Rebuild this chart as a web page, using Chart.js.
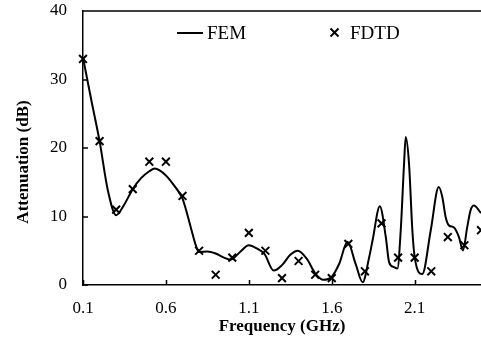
<!DOCTYPE html>
<html><head><meta charset="utf-8">
<style>html,body{margin:0;padding:0;background:#fff;overflow:hidden}</style>
<script src="https://cdn.jsdelivr.net/npm/chart.js@4.4.0/dist/chart.umd.min.js"></script>
</head><body>
<canvas id="c" width="481" height="344" style="display:block;width:481px;height:344px"></canvas>
<script>
const xTicks = [0.1, 0.6, 1.1, 1.6, 2.1];
const yTicks = [0, 10, 20, 30, 40];
const femFreq = [0.1,0.15,0.2,0.25,0.3,0.35,0.4,0.45,0.5,0.533,0.6,0.65,0.7,0.75,0.78,0.8,0.85,0.9,0.95,0.99,1.05,1.1,1.15,1.195,1.25,1.3,1.35,1.395,1.45,1.5,1.55,1.6,1.645,1.695,1.745,1.786,1.826,1.846,1.89,1.926,1.946,1.976,1.996,2.016,2.036,2.046,2.066,2.086,2.1,2.146,2.197,2.245,2.267,2.287,2.307,2.337,2.367,2.391,2.417,2.437,2.457,2.5];
const femAtt = [33.2,27,21,13.8,10.2,11.8,14,15.6,16.6,17,16,14.5,12.6,8.4,5.8,4.8,4.9,4.6,4.0,3.7,4.9,5.8,5.3,4.5,2.1,2.9,4.4,5.0,3.8,1.7,0.75,1.2,3.1,6.3,3.0,0.4,4.1,6.5,11.5,7.0,3.3,2.6,2.4,8,17.7,21.6,17.7,8,4.1,1.6,8,14.3,12.8,9.9,8.7,8.4,7.0,5.05,8.45,10.9,11.6,10.5];
const fdtdFreq = [0.1,0.2,0.3,0.4,0.5,0.6,0.7,0.8,0.9,1.0,1.1,1.2,1.3,1.4,1.5,1.6,1.7,1.8,1.9,2.0,2.1,2.2,2.3,2.4,2.5];
const fdtdAtt = [33,21,11,14,18,18,13,5,1.5,4,7.6,5,1,3.5,1.5,1,6,2,9,4,4,2,7,5.8,8];
const seriesNames = ['FEM', 'FDTD'];
const xTitle = 'Frequency (GHz)';
const yTitle = 'Attenuation (dB)';

const FONT = "'Liberation Serif','Times New Roman',serif";

const extras = {
  id: 'extras',
  afterDraw(chart) {
    const {ctx, chartArea: a, scales: {x, y}} = chart;
    ctx.save();
    ctx.strokeStyle = '#000';
    ctx.lineWidth = 1.5;
    ctx.beginPath();
    ctx.moveTo(a.left, a.top); ctx.lineTo(a.right, a.top);
    xTicks.forEach(v => { const p = Math.round(x.getPixelForValue(v)) + 0.5; ctx.moveTo(p, a.bottom); ctx.lineTo(p, a.bottom - 5); });
    yTicks.forEach(v => { const p = Math.round(y.getPixelForValue(v)); ctx.moveTo(a.left, p); ctx.lineTo(a.left + 5, p); });
    ctx.stroke();
    ctx.fillStyle = '#000';
    ctx.font = 'bold 17px ' + FONT;
    ctx.textAlign = 'center';
    ctx.textBaseline = 'middle';
    ctx.save();
    ctx.translate(24, 162);
    ctx.rotate(-Math.PI / 2);
    ctx.fillText(yTitle, 0, 0);
    ctx.restore();
    ctx.font = '19px ' + FONT;
    ctx.textAlign = 'left';
    ctx.lineWidth = 2;
    ctx.beginPath(); ctx.moveTo(177, 33); ctx.lineTo(203, 33); ctx.stroke();
    ctx.fillText(seriesNames[0], 207, 34);
    ctx.beginPath();
    ctx.moveTo(330.5, 28.5); ctx.lineTo(338.5, 36.5);
    ctx.moveTo(338.5, 28.5); ctx.lineTo(330.5, 36.5);
    ctx.stroke();
    ctx.fillText(seriesNames[1], 350, 34);
    ctx.restore();
  }
};

new Chart(document.getElementById('c'), {
  type: 'line',
  data: {
    datasets: [
      {
        label: seriesNames[0],
        data: femFreq.map((f, i) => ({x: f, y: femAtt[i]})),
        borderColor: '#000', borderWidth: 2, pointRadius: 0,
        cubicInterpolationMode: 'monotone', fill: false
      },
      {
        label: seriesNames[1],
        data: fdtdFreq.map((f, i) => ({x: f, y: fdtdAtt[i]})),
        showLine: false, pointStyle: 'crossRot', pointRadius: 5.5,
        pointBorderWidth: 2, borderColor: '#000', backgroundColor: '#000', clip: false
      }
    ]
  },
  options: {
    responsive: false, animation: false, devicePixelRatio: 1,
    layout: {autoPadding: false, padding: {top: 11, right: 0, left: 0, bottom: 0}},
    plugins: {legend: {display: false}, tooltip: {enabled: false}},
    scales: {
      x: {
        type: 'linear', min: 0.1, max: 2.5,
        afterBuildTicks: s => { s.ticks = xTicks.map(v => ({value: v})); },
        afterFit: s => { s.height = 59; s.paddingLeft = 0; s.paddingRight = 0; },
        grid: {display: false},
        border: {display: true, color: '#000', width: 1.5},
        ticks: {color: '#000', font: {family: FONT, size: 17}, padding: 5, maxRotation: 0, autoSkip: false,
                callback: v => Number(v).toFixed(1)},
        title: {display: true, text: xTitle, color: '#000', font: {family: FONT, size: 17, weight: 'bold'}, padding: {top: 0, bottom: 7}}
      },
      y: {
        type: 'linear', min: 0, max: 40,
        afterBuildTicks: s => { s.ticks = yTicks.map(v => ({value: v})); },
        afterFit: s => { s.width = 83; s.paddingTop = 0; s.paddingBottom = 0; },
        grid: {display: false},
        border: {display: true, color: '#000', width: 1.5},
        ticks: {color: '#000', font: {family: FONT, size: 17}, padding: 8, autoSkip: false}
      }
    }
  },
  plugins: [extras]
});
</script>
</body></html>
